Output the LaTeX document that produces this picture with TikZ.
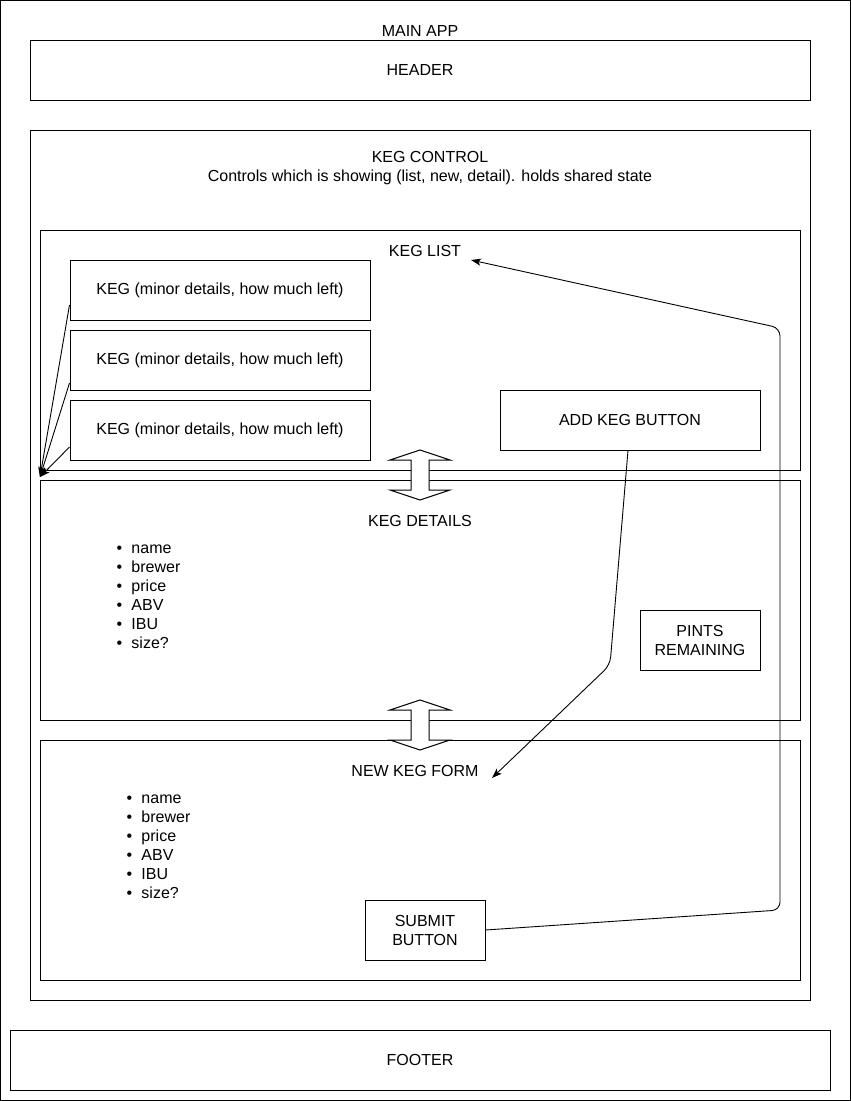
\documentclass[tikz,border=0pt]{standalone}
\usepackage{fontspec}
\setmainfont{Liberation Sans}
\usetikzlibrary{arrows.meta}
\newcommand{\bul}[1]{\makebox[15pt][l]{•}#1}
\begin{document}
\begin{tikzpicture}[x=1pt,y=-1pt,line width=1pt,
  box/.style={draw,fill=white,inner sep=0pt,align=center,
    font=\fontsize{16}{19}\selectfont},
  lbl/.style={inner sep=0pt,align=center,font=\fontsize{16}{19}\selectfont},
  items/.style={inner sep=0pt,align=left,anchor=north west,
    font=\fontsize{16}{19}\selectfont},
  conn/.style={-{Stealth[length=10pt,width=7pt,inset=2.5pt]},line width=0.9pt,
    rounded corners=8pt},
  dblarrow/.style={draw,fill=white,line join=miter}]
\useasboundingbox (0,0) rectangle (851,1101);

% outer frame and main label
\draw (0.5,0.5) rectangle (850,1100);
\node[lbl] (mainlbl) at (420,31) {MAIN APP};

\node[box,minimum width=780pt,minimum height=60pt] (header) at (420,70) {HEADER};

% keg control container
\node[box,minimum width=780pt,minimum height=870pt] (control) at (420,565) {};
\node[lbl] (controllbl) at (430,168) {KEG CONTROL\\Controls which is showing (list, new, detail). holds shared state};

% keg list
\node[box,minimum width=760pt,minimum height=240pt] (list) at (420,350) {};
\node[lbl] (listlbl) at (425,251) {KEG LIST};
\node[box,minimum width=300pt,minimum height=60pt] (keg1) at (220,290) {KEG (minor details, how much left)};
\node[box,minimum width=300pt,minimum height=60pt] (keg2) at (220,360) {KEG (minor details, how much left)};
\node[box,minimum width=300pt,minimum height=60pt] (keg3) at (220,430) {KEG (minor details, how much left)};
\node[box,minimum width=260pt,minimum height=60pt] (addkeg) at (630,420) {ADD KEG BUTTON};

% keg details
\node[box,minimum width=760pt,minimum height=240pt] (details) at (420,600) {};
\node[lbl] (detailslbl) at (420,521) {KEG DETAILS};
\node[items] (detailitems) at (116,544) {\bul{name}\\\bul{brewer}\\\bul{price}\\\bul{ABV}\\\bul{IBU}\\\bul{size?}};
\node[box,minimum width=120pt,minimum height=60pt] (pints) at (700,640) {PINTS\\REMAINING};

% new keg form
\node[box,minimum width=760pt,minimum height=240pt] (form) at (420,860) {};
\node[lbl] (formlbl) at (415,771) {NEW KEG FORM};
\node[items] (formitems) at (126,794) {\bul{name}\\\bul{brewer}\\\bul{price}\\\bul{ABV}\\\bul{IBU}\\\bul{size?}};
\node[box,minimum width=120pt,minimum height=60pt] (submit) at (425,930) {SUBMIT\\BUTTON};

\node[box,minimum width=820pt,minimum height=60pt] (footer) at (420,1060) {FOOTER};

% two-way switches between the views
\draw[dblarrow] (420,450) -- (450,460) -- (429,460) -- (429,490) -- (450,490)
  -- (420,500) -- (390,490) -- (411,490) -- (411,460) -- (390,460) -- cycle;
\draw[dblarrow] (420,700) -- (450,710) -- (429,710) -- (429,740) -- (450,740)
  -- (420,750) -- (390,740) -- (411,740) -- (411,710) -- (390,710) -- cycle;

% connectors
\coordinate (kegtip) at (40,477);
\coordinate (formtip) at (492,778);
\coordinate (listtip) at (471,260);
\draw[conn] ([yshift=-15pt]keg1.west) -- (kegtip);
\draw[conn] ([yshift=-23pt]keg2.west) -- (kegtip);
\draw[conn] ([yshift=-17pt]keg3.west) -- (kegtip);
\draw[conn] ([xshift=-2pt]addkeg.south) -- (610,665) -- (formtip);
\draw[conn] (submit.east) -- (780,910) -- (780,328) -- (listtip);
\end{tikzpicture}
\end{document}
